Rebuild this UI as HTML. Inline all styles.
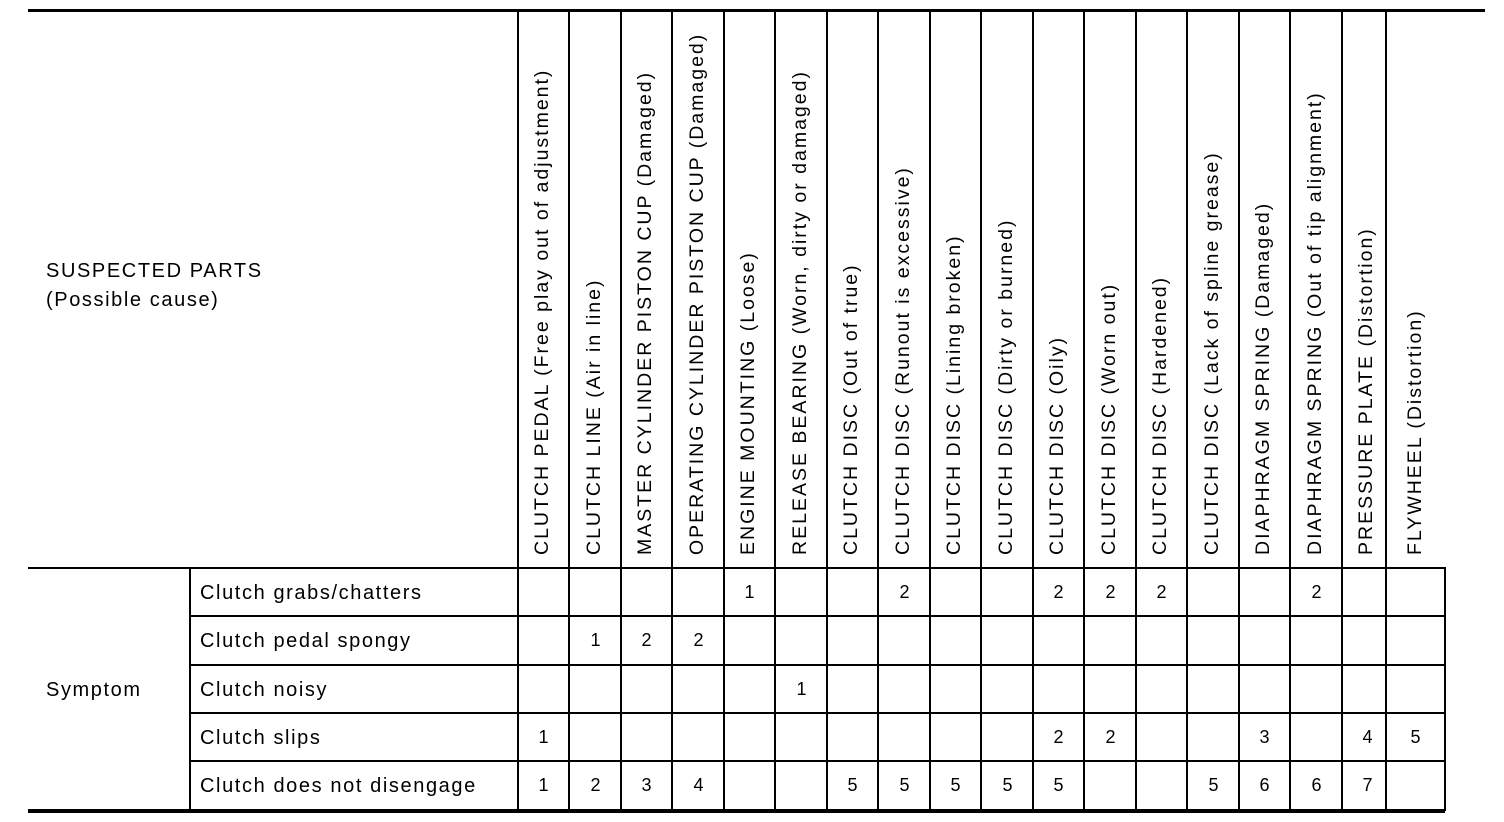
<!DOCTYPE html>
<html><head><meta charset="utf-8"><style>
body{margin:0;background:#fff;width:1504px;height:822px;position:relative;overflow:hidden;font-family:"Liberation Sans",Arial,sans-serif;color:#000}
.h{position:absolute;background:#000}
.t{position:absolute;font-size:20px;line-height:20px;white-space:nowrap;letter-spacing:1.6px}
.v{position:absolute;top:555px;font-size:19.5px;letter-spacing:2px;white-space:nowrap;transform-origin:0 0;transform:rotate(-90deg);line-height:20px}
.n{position:absolute;font-size:18px;width:51px;text-align:center;line-height:20px}
</style></head><body>
<div class="h" style="left:28px;top:9px;width:1457px;height:3px"></div>
<div class="h" style="left:28px;top:567px;width:1417px;height:2px"></div>
<div class="h" style="left:190px;top:615px;width:1255px;height:2px"></div>
<div class="h" style="left:190px;top:664px;width:1255px;height:2px"></div>
<div class="h" style="left:190px;top:712px;width:1255px;height:2px"></div>
<div class="h" style="left:190px;top:760px;width:1255px;height:2px"></div>
<div class="h" style="left:28px;top:809px;width:1417px;height:4px"></div>
<div class="h" style="left:189px;top:567px;width:2px;height:244px"></div>

<div class="h" style="left:517px;top:11px;width:2px;height:800px"></div>
<div class="h" style="left:568px;top:11px;width:2px;height:800px"></div>
<div class="h" style="left:620px;top:11px;width:2px;height:800px"></div>
<div class="h" style="left:671px;top:11px;width:2px;height:800px"></div>
<div class="h" style="left:723px;top:11px;width:2px;height:800px"></div>
<div class="h" style="left:774px;top:11px;width:2px;height:800px"></div>
<div class="h" style="left:826px;top:11px;width:2px;height:800px"></div>
<div class="h" style="left:877px;top:11px;width:2px;height:800px"></div>
<div class="h" style="left:929px;top:11px;width:2px;height:800px"></div>
<div class="h" style="left:980px;top:11px;width:2px;height:800px"></div>
<div class="h" style="left:1032px;top:11px;width:2px;height:800px"></div>
<div class="h" style="left:1083px;top:11px;width:2px;height:800px"></div>
<div class="h" style="left:1135px;top:11px;width:2px;height:800px"></div>
<div class="h" style="left:1186px;top:11px;width:2px;height:800px"></div>
<div class="h" style="left:1238px;top:11px;width:2px;height:800px"></div>
<div class="h" style="left:1289px;top:11px;width:2px;height:800px"></div>
<div class="h" style="left:1341px;top:11px;width:2px;height:800px"></div>
<div class="h" style="left:1385px;top:11px;width:2px;height:800px"></div>
<div class="h" style="left:1444px;top:567px;width:2px;height:244px"></div>

<div class="t" style="left:46px;top:261px">SUSPECTED PARTS</div>
<div class="t" style="left:46px;top:290px">(Possible cause)</div>
<div class="t" style="left:46px;top:680px">Symptom</div>
<div class="t" style="left:200px;top:583px">Clutch grabs/chatters</div>
<div class="t" style="left:200px;top:631px">Clutch pedal spongy</div>
<div class="t" style="left:200px;top:680px">Clutch noisy</div>
<div class="t" style="left:200px;top:728px">Clutch slips</div>
<div class="t" style="left:200px;top:776px">Clutch does not disengage</div>

<div class="v" style="left:532px">CLUTCH PEDAL (Free play out of adjustment)</div>
<div class="v" style="left:584px">CLUTCH LINE (Air in line)</div>
<div class="v" style="left:635px">MASTER CYLINDER PISTON CUP (Damaged)</div>
<div class="v" style="left:687px">OPERATING CYLINDER PISTON CUP (Damaged)</div>
<div class="v" style="left:738px">ENGINE MOUNTING (Loose)</div>
<div class="v" style="left:790px">RELEASE BEARING (Worn, dirty or damaged)</div>
<div class="v" style="left:841px">CLUTCH DISC (Out of true)</div>
<div class="v" style="left:893px">CLUTCH DISC (Runout is excessive)</div>
<div class="v" style="left:944px">CLUTCH DISC (Lining broken)</div>
<div class="v" style="left:996px">CLUTCH DISC (Dirty or burned)</div>
<div class="v" style="left:1047px">CLUTCH DISC (Oily)</div>
<div class="v" style="left:1099px">CLUTCH DISC (Worn out)</div>
<div class="v" style="left:1150px">CLUTCH DISC (Hardened)</div>
<div class="v" style="left:1202px">CLUTCH DISC (Lack of spline grease)</div>
<div class="v" style="left:1253px">DIAPHRAGM SPRING (Damaged)</div>
<div class="v" style="left:1305px">DIAPHRAGM SPRING (Out of tip alignment)</div>
<div class="v" style="left:1356px">PRESSURE PLATE (Distortion)</div>
<div class="v" style="left:1405px">FLYWHEEL (Distortion)</div>

<div class="n" style="left:724px;top:582px">1</div>
<div class="n" style="left:879px;top:582px">2</div>
<div class="n" style="left:1033px;top:582px">2</div>
<div class="n" style="left:1085px;top:582px">2</div>
<div class="n" style="left:1136px;top:582px">2</div>
<div class="n" style="left:1291px;top:582px">2</div>

<div class="n" style="left:570px;top:630px">1</div>
<div class="n" style="left:621px;top:630px">2</div>
<div class="n" style="left:673px;top:630px">2</div>

<div class="n" style="left:776px;top:679px">1</div>

<div class="n" style="left:518px;top:727px">1</div>
<div class="n" style="left:1033px;top:727px">2</div>
<div class="n" style="left:1085px;top:727px">2</div>
<div class="n" style="left:1239px;top:727px">3</div>
<div class="n" style="left:1342px;top:727px">4</div>
<div class="n" style="left:1390px;top:727px">5</div>

<div class="n" style="left:518px;top:775px">1</div>
<div class="n" style="left:570px;top:775px">2</div>
<div class="n" style="left:621px;top:775px">3</div>
<div class="n" style="left:673px;top:775px">4</div>
<div class="n" style="left:827px;top:775px">5</div>
<div class="n" style="left:879px;top:775px">5</div>
<div class="n" style="left:930px;top:775px">5</div>
<div class="n" style="left:982px;top:775px">5</div>
<div class="n" style="left:1033px;top:775px">5</div>
<div class="n" style="left:1188px;top:775px">5</div>
<div class="n" style="left:1239px;top:775px">6</div>
<div class="n" style="left:1291px;top:775px">6</div>
<div class="n" style="left:1342px;top:775px">7</div>
</body></html>
